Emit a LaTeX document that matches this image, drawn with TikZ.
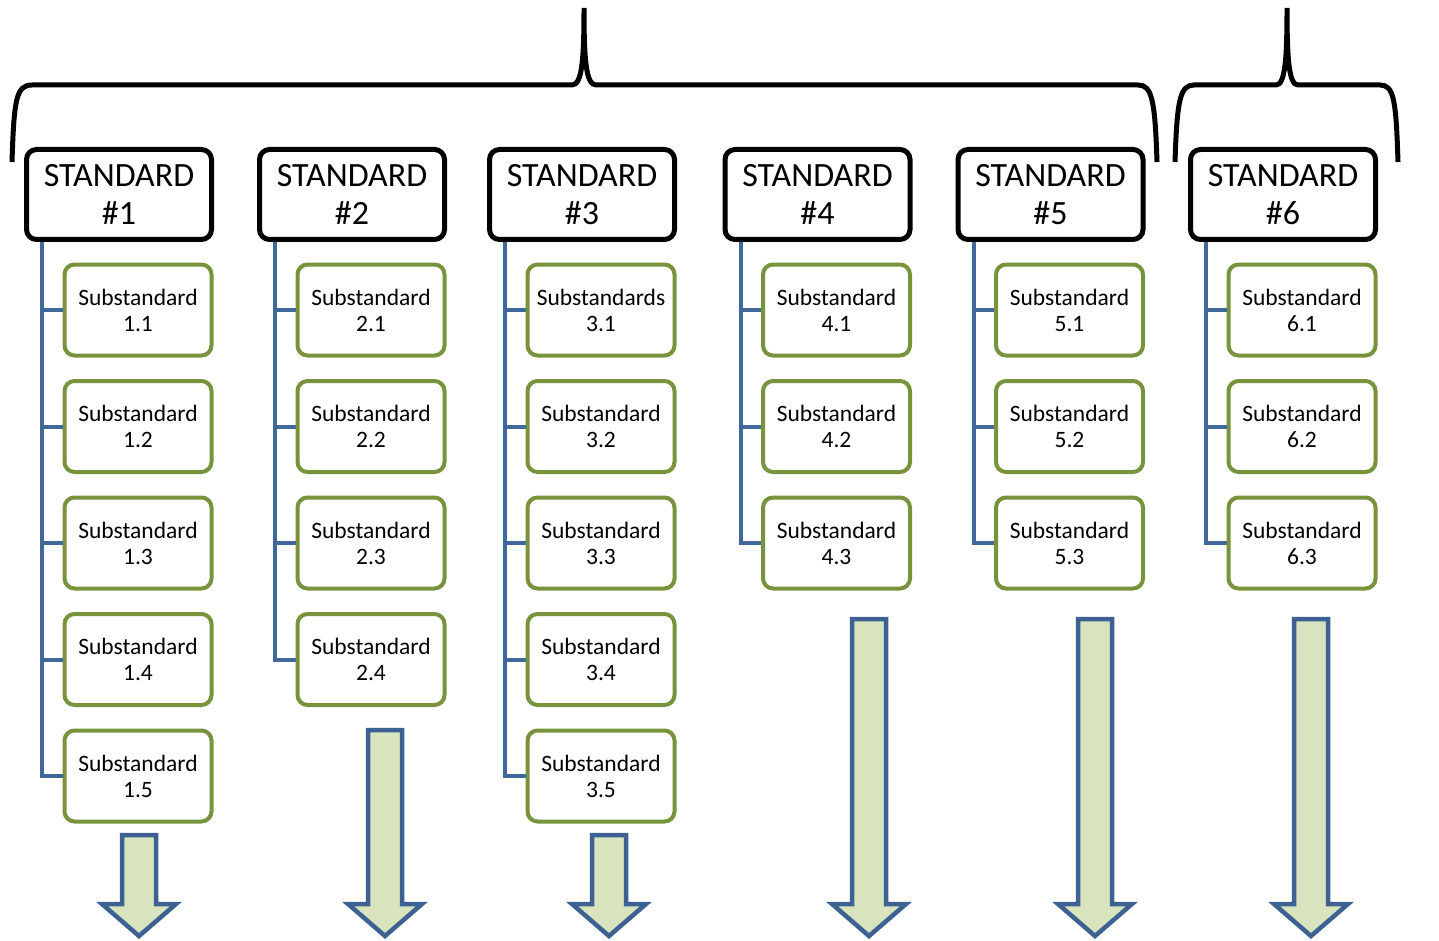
\documentclass[tikz,border=0pt]{standalone}
\usepackage{fontspec}
\setmainfont{Carlito}
\usepackage{xcolor}
\usepackage{tikz}
\usetikzlibrary{calc}
\definecolor{stdline}{HTML}{000000}
\definecolor{subline}{HTML}{77933C}
\definecolor{trunkline}{HTML}{41689B}
\definecolor{arrowline}{HTML}{3D6192}
\definecolor{arrowfill}{HTML}{D7E4BD}
\tikzset{
  stdbox/.style={draw=stdline, line width=5pt, rounded corners=10pt, fill=white,
    minimum width=185pt, minimum height=90pt, inner sep=0pt, align=center,
    font=\fontsize{34}{38}\selectfont},
  subbox/.style={draw=subline, line width=4pt, rounded corners=10pt, fill=white,
    minimum width=147pt, minimum height=91pt, inner sep=0pt, align=center,
    font=\fontsize{23.5}{26}\selectfont},
  trunk/.style={draw=trunkline, line width=4pt},
  brace/.style={draw=stdline, line width=5pt, line cap=butt},
  blockarrow/.style={draw=arrowline, fill=arrowfill, line width=4.5pt, line join=miter},
}
\begin{document}
\begin{tikzpicture}[x=1pt, y=-1pt]
  \useasboundingbox (0,0) rectangle (1439,941);

  % braces
  \draw[brace] (12,162) .. controls (14,100) and (16,85) .. (32,85) -- (572,85)
    .. controls (582,85) and (584,60) .. (584,8)
    .. controls (584,60) and (586,85) .. (596,85) -- (1138,85)
    .. controls (1152,85) and (1155,100) .. (1157,162);
  \draw[brace] (1175,162) .. controls (1177,100) and (1180,85) .. (1194,85) -- (1276,85)
    .. controls (1285,85) and (1287,60) .. (1287,8)
    .. controls (1287,60) and (1289,85) .. (1298,85) -- (1380,85)
    .. controls (1394,85) and (1396,100) .. (1398,162);

  % standards, substandards, trunks and arrows
  \foreach \i/\cx/\n/\ax/\ty in {1/119/5/139/835, 2/352/4/385/730, 3/582/5/609/835,
                                 4/817.5/3/869/619, 5/1050.5/3/1095/619, 6/1283/3/1311/619}{
    \node[stdbox] (std\i) at (\cx,194.5) {STANDARD\\\#\i};
    \coordinate (top\i) at ($(std\i.south west)+(18,0)$);
    \foreach \k in {1,...,\n}{
      \node[subbox] (sub\i-\k) at ({\cx+19},{310+116.5*(\k-1)})
        {Substandard\ifnum\i\k=31 s\fi\\\i.\k};
      \draw[trunk] (sub\i-\k.west) -- (sub\i-\k.west -| top\i);
    }
    \draw[trunk] (top\i) |- (sub\i-\n.west);
    \draw[blockarrow] (\ax-17,\ty) -- (\ax+17,\ty) -- (\ax+17,904) -- (\ax+37,904)
      -- (\ax,936) -- (\ax-37,904) -- (\ax-17,904) -- cycle;
  }
\end{tikzpicture}
\end{document}
